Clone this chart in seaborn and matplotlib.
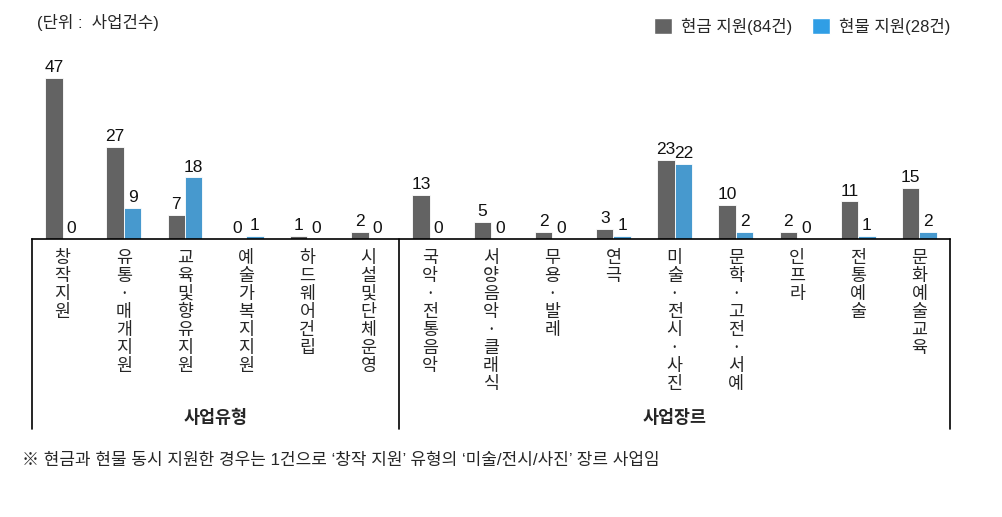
import numpy as np
import pandas as pd
import matplotlib
matplotlib.use("Agg")
import matplotlib.pyplot as plt
from matplotlib.patches import Patch
import seaborn as sns

# data
categories = ["창작 지원", "유통·매개 지원", "교육 및 향유 지원", "예술가 복지 지원",
              "하드웨어 건립", "시설 및 단체 운영",
              "국악·전통음악", "서양음악·클래식", "무용·발레", "연극", "미술·전시·사진",
              "문학·고전·서예", "인프라", "전통예술", "문화예술교육"]
cash = [47, 27, 7, 0, 1, 2, 13, 5, 2, 3, 23, 10, 2, 11, 15]
inkind = [0, 9, 18, 1, 0, 0, 0, 0, 0, 1, 22, 2, 0, 1, 2]
series_names = ["현금 지원(84건)", "현물 지원(28건)"]
groups = ["사업유형", "사업장르"]
n_type = 6

colors = ["#636363", "#309EE5"]

sns.set_theme(style="white")
plt.rcParams['font.family'] = ['Liberation Sans', 'Noto Sans CJK KR', 'DejaVu Sans']

df = pd.DataFrame({
    "cat": categories * 2,
    "val": cash + inkind,
    "series": [series_names[0]] * len(categories) + [series_names[1]] * len(categories),
})

fig = plt.figure(figsize=(10.03, 5.17), dpi=100)
ax = fig.add_axes([0.0319, 0.5377, 0.9153, 0.3443])

sns.barplot(data=df, x="cat", y="val", hue="series", palette=colors, width=0.57,
            ax=ax, legend=False, edgecolor="white", linewidth=0.6)

ax.set_xlim(-0.5, len(categories) - 0.5)
ax.set_ylim(0, 52)
ax.set_xlabel("")
ax.set_ylabel("")
ax.set_yticks([])
for s in ["top", "right", "left"]:
    ax.spines[s].set_visible(False)
ax.spines["bottom"].set_color("black")
ax.spines["bottom"].set_linewidth(1.2)

for c in ax.containers:
    ax.bar_label(c, padding=2, fontsize=12.5, color="#111111")

# stacked vertical tick labels (one syllable per line)
stacked = ["\n".join(ch for ch in name if ch != " ") for name in categories]
ax.set_xticks(range(len(categories)))
ax.set_xticklabels(stacked, fontsize=12.5, linespacing=1.0, va="top",
                   family=['Noto Sans CJK KR', 'DejaVu Sans'])
ax.tick_params(axis="x", length=0, pad=7)

# boundary ticks pointing up
ax.set_xticks(np.arange(-0.5, len(categories), 1), minor=True)
ax.tick_params(axis="x", which="minor", direction="in", length=5, width=1, color="black")

# group separator lines
trans = ax.get_xaxis_transform()
for xv in [-0.5, n_type - 0.5, len(categories) - 0.5]:
    ax.plot([xv, xv], [0, -1.07], color="black", lw=1.2, transform=trans, clip_on=False)

ax.text((n_type - 1) / 2, -1.005, groups[0], transform=trans, ha="center", va="center",
        fontsize=12.5, fontweight="bold", family=['Noto Sans CJK KR'])
ax.text((n_type + len(categories) - 1) / 2, -1.005, groups[1], transform=trans, ha="center",
        va="center", fontsize=12.5, fontweight="bold", family=['Noto Sans CJK KR'])

handles = [Patch(facecolor=colors[0]), Patch(facecolor=colors[1])]
fig.legend(handles, series_names, loc="upper right", bbox_to_anchor=(0.962, 0.995),
           ncol=2, frameon=False, handlelength=1.1, handleheight=1.1,
           handletextpad=0.5, columnspacing=1.2,
           prop={'family': ['Liberation Sans', 'Noto Sans CJK KR'], 'size': 12})

fig.text(0.037, 0.957, "(단위 :  사업건수)", fontsize=12, ha="left", va="center")
fig.text(0.022, 0.11, "※ 현금과 현물 동시 지원한 경우는 1건으로 ‘창작 지원’ 유형의 ‘미술/전시/사진’ 장르 사업임",
         fontsize=12.2, ha="left", va="center")

fig.savefig("out.png", dpi=100)
